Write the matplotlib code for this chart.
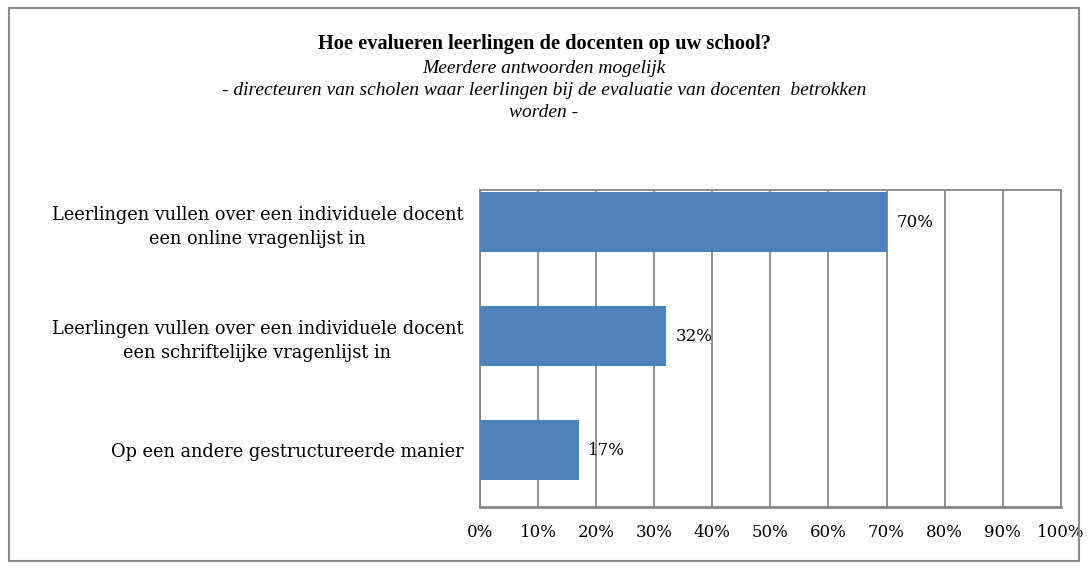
import matplotlib.pyplot as plt
from matplotlib.patches import Rectangle

# data
categories = [
    "Leerlingen vullen over een individuele docent\neen online vragenlijst in",
    "Leerlingen vullen over een individuele docent\neen schriftelijke vragenlijst in",
    "Op een andere gestructureerde manier",
]
values = [70, 32, 17]
xticks = list(range(0, 101, 10))
xtick_labels = [f"{t}%" for t in xticks]

plt.rcParams['font.family'] = ['DejaVu Serif']

fig = plt.figure(figsize=(10.88, 5.68), dpi=100)
ax = fig.add_axes([0.441, 0.107, 0.534, 0.558])

grid_col = '#868686'
bar_col = '#4F81BD'

ypos = list(range(len(categories)))
ax.barh(ypos, values, height=0.53, color=bar_col, zorder=3)
for y, v in zip(ypos, values):
    ax.annotate(f"{v}%", (v, y), xytext=(7, 0), textcoords='offset points',
                va='center', ha='left', fontsize=12, zorder=4)

ax.set_xlim(0, 100)
ax.set_ylim(2.5, -0.28)
ax.set_xticks(xticks)
ax.set_xticklabels(xtick_labels, fontsize=12)
ax.set_yticks(ypos)
ax.set_yticklabels(categories, fontsize=12.8, linespacing=1.4)
for lbl in ax.get_yticklabels():
    lbl.set_multialignment('center')
ax.tick_params(axis='both', length=0)
ax.tick_params(axis='x', pad=12)
ax.tick_params(axis='y', pad=12)
ax.grid(axis='x', color=grid_col, linewidth=1.3, zorder=0)
for s in ax.spines.values():
    s.set_color(grid_col)
    s.set_linewidth(1.3)
ax.spines['bottom'].set_linewidth(2)

fig.text(0.5, 0.922, "Hoe evalueren leerlingen de docenten op uw school?",
         ha='center', va='center', fontsize=14.7, fontweight='bold',
         family='Liberation Serif')
fig.text(0.5, 0.880, "Meerdere antwoorden mogelijk",
         ha='center', va='center', fontsize=14, style='italic',
         family='Liberation Serif')
fig.text(0.5, 0.841, "- directeuren van scholen waar leerlingen bij de evaluatie van docenten  betrokken",
         ha='center', va='center', fontsize=14, style='italic',
         family='Liberation Serif')
fig.text(0.5, 0.802, "worden -",
         ha='center', va='center', fontsize=14, style='italic',
         family='Liberation Serif')

fig.patches.append(Rectangle((0.008, 0.012), 0.984, 0.974, transform=fig.transFigure,
                             fill=False, edgecolor='#8c8c8c', linewidth=1.5))

fig.savefig('out.png', dpi=100)
